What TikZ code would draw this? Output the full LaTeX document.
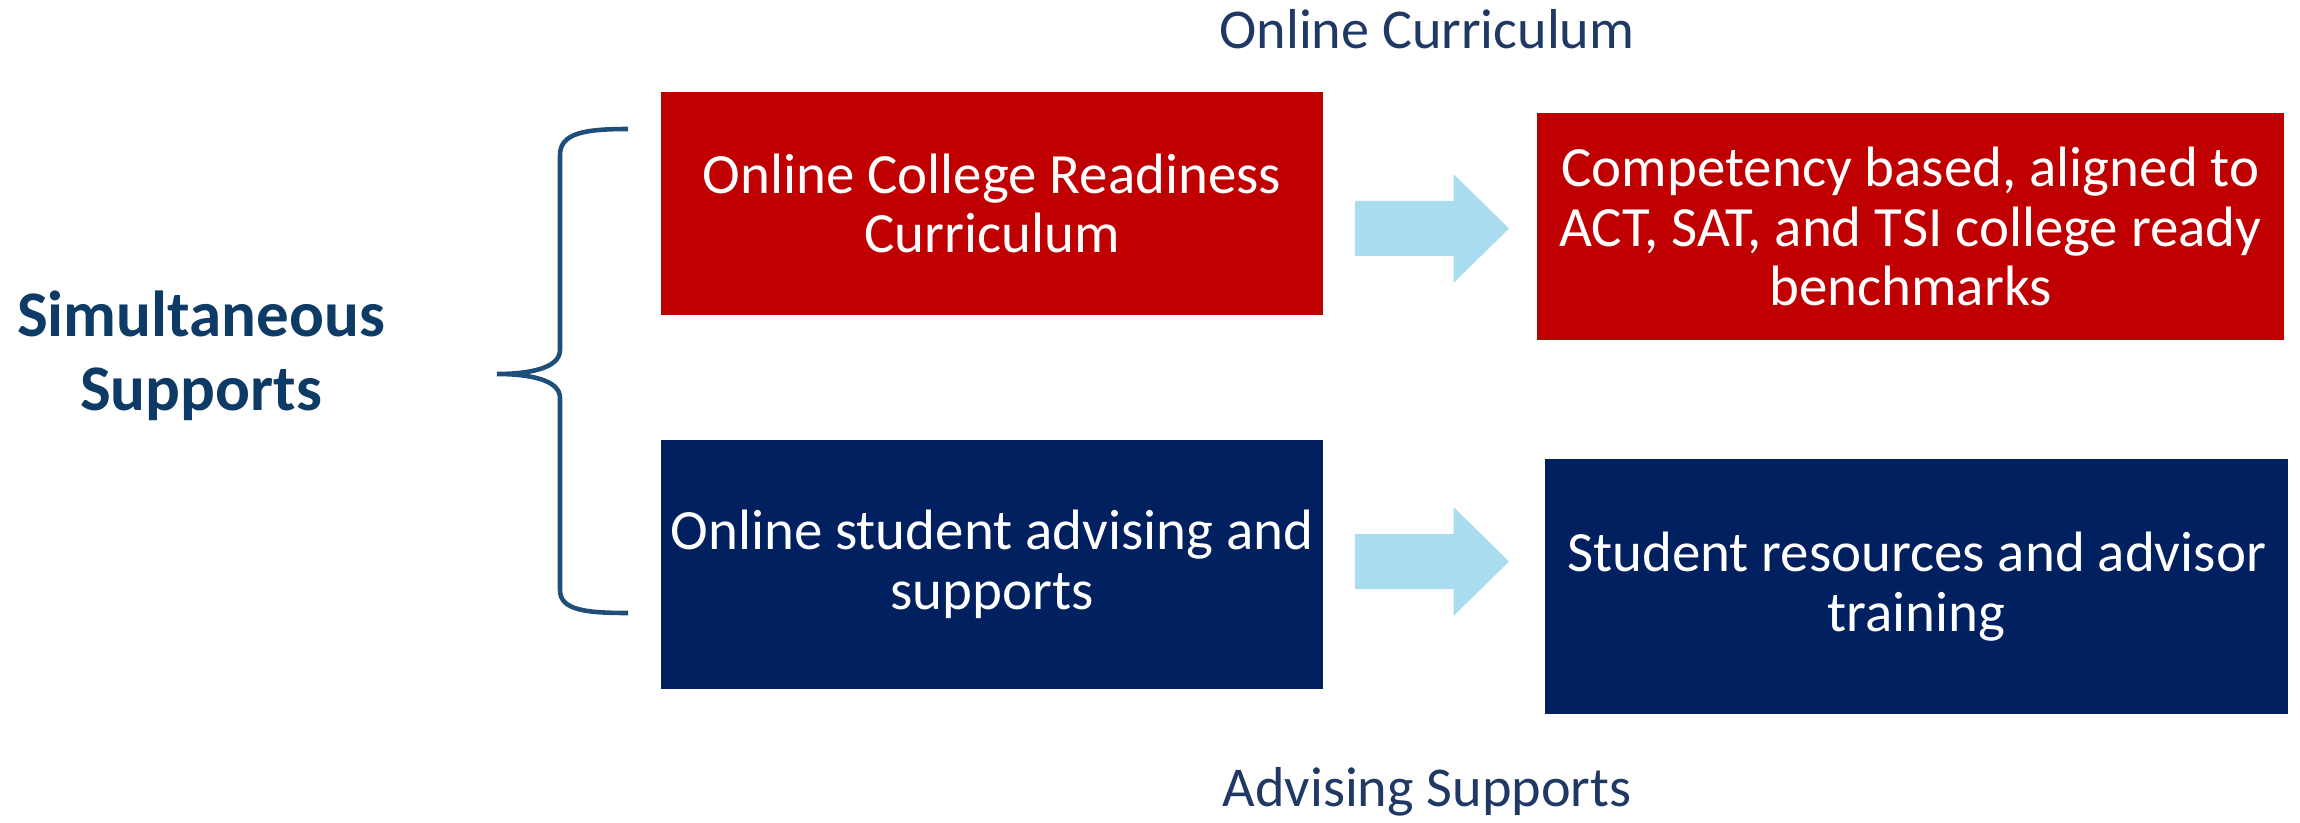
\documentclass[tikz,border=0pt]{standalone}
\usepackage{fontspec}
\setmainfont{Carlito}
\usetikzlibrary{calc}
\definecolor{boxred}{HTML}{C00000}
\definecolor{boxblue}{HTML}{002060}
\definecolor{arrowblue}{HTML}{A9DCEF}
\definecolor{labelblue}{HTML}{1F3864}
\definecolor{headblue}{HTML}{0E3A66}
\definecolor{braceblue}{HTML}{1F4E79}
\begin{document}
\begin{tikzpicture}[
  redbox/.style={rectangle,fill=boxred,text=white,align=center,inner sep=0pt,
    font=\fontsize{16.2}{17}\selectfont},
  bluebox/.style={redbox,fill=boxblue},
  bigarrow/.style={fill=arrowblue},
  label/.style={text=labelblue,font=\fontsize{16}{17}\selectfont}]
\useasboundingbox (0,0) rectangle (23,-8.23);
\node[label] (TOP) at (14.27,-0.29) {Online Curriculum};
\node[label] (BOT) at (14.27,-7.92) {Advising Supports};
\node[text=headblue,align=center,font=\fontsize{18.5}{21}\bfseries\selectfont] (SIM) at (2.01,-3.56) {Simultaneous\\Supports};
\node[redbox,minimum width=6.62cm,minimum height=2.23cm] (OCR) at (9.92,-2.035) {Online College Readiness\\Curriculum};
\node[redbox,minimum width=7.47cm,minimum height=2.27cm] (CMP) at (19.105,-2.265) {Competency based, aligned to\\ACT, SAT, and TSI college ready\\benchmarks};
\node[bluebox,minimum width=6.62cm,minimum height=2.49cm] (OSA) at (9.92,-5.645) {Online student advising and\\supports};
\node[bluebox,minimum width=7.43cm,minimum height=2.55cm] (SRA) at (19.165,-5.865) {Student resources and advisor\\training};
% block arrows
\coordinate (AR1) at (14.32,-2.285);
\coordinate (AR2) at (14.32,-5.615);
\foreach \a in {AR1,AR2}
  \fill[bigarrow] ($(\a)+(-0.77,0.275)$) -- ($(\a)+(0.215,0.275)$) -- ($(\a)+(0.215,0.545)$)
    -- ($(\a)+(0.77,0)$) -- ($(\a)+(0.215,-0.545)$) -- ($(\a)+(0.215,-0.275)$)
    -- ($(\a)+(-0.77,-0.275)$) -- cycle;
% brace
\coordinate (BT) at (6.28,-1.29);
\coordinate (BM) at (4.97,-3.74);
\coordinate (BB) at (6.28,-6.13);
\draw[braceblue,line width=1.3pt] (BT) .. controls (5.85,-1.29) and (5.60,-1.33) .. (5.60,-1.55)
  -- (5.60,-3.50) .. controls (5.60,-3.68) and (5.30,-3.74) .. (BM)
  .. controls (5.30,-3.74) and (5.60,-3.80) .. (5.60,-3.98)
  -- (5.60,-5.90) .. controls (5.60,-6.10) and (5.85,-6.13) .. (BB);
\end{tikzpicture}
\end{document}
